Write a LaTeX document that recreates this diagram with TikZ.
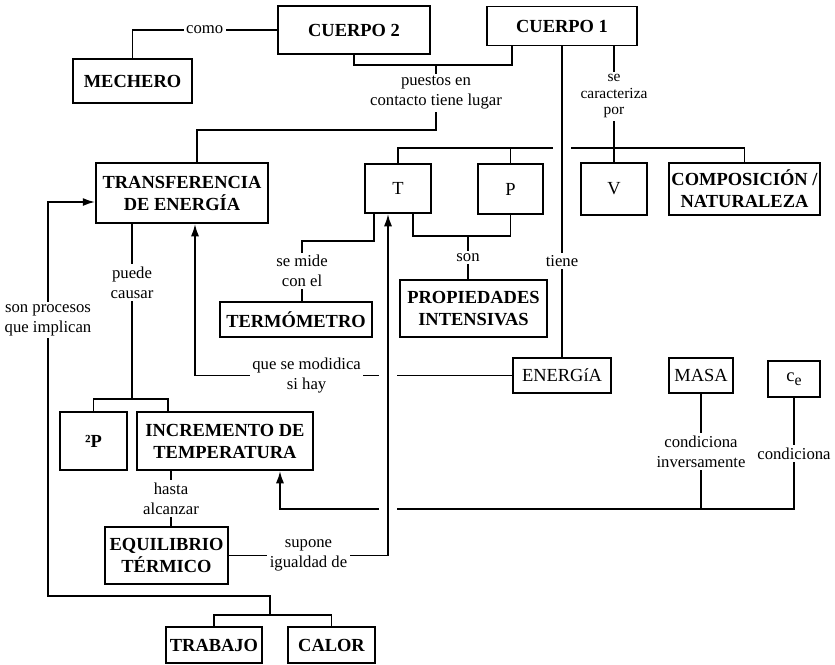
\documentclass[tikz,border=0pt]{standalone}
\usepackage{fontspec}
\setmainfont{Liberation Serif}
\usetikzlibrary{arrows.meta}

\begin{document}
\begin{tikzpicture}[x=0.02cm, y=-0.02cm, >={Latex[length=7pt,width=4.6pt]},
    line width=1pt,
    caja/.style={draw, line width=1.1pt, align=center, inner sep=1pt,
      font=\fontsize{10.5}{12.5}\selectfont\bfseries},
    cajan/.style={caja, font=\fontsize{10.5}{12.5}\selectfont},
    lbl/.style={fill=white, inner sep=1.5pt, align=center,
      font=\fontsize{9.5}{11.3}\selectfont},
    lblsm/.style={lbl, font=\fontsize{8.8}{9.4}\selectfont},
    cruce/.style={fill=white, inner sep=0pt, minimum width=0.36cm, minimum height=0.12cm}
  ]
    \useasboundingbox (0,0) rectangle (835,664);

    \node[caja, minimum width=3.04cm, minimum height=0.96cm] (cuerpo2) at (354,30) {CUERPO 2};
    \node[caja, minimum width=3.0cm, minimum height=0.78cm] (cuerpo1) at (562,26) {CUERPO 1};
    \node[caja, minimum width=2.38cm, minimum height=0.88cm] (mechero) at (132.5,81) {MECHERO};
    \node[caja, minimum width=3.44cm, minimum height=1.2cm] (transf) at (182,193) {TRANSFERENCIA\\DE ENERGÍA};
    \node[cajan, minimum width=1.32cm, minimum height=0.98cm] (t) at (398,188.5) {T};
    \node[cajan, minimum width=1.3cm, minimum height=1.0cm] (p) at (510.5,189) {P};
    \node[cajan, minimum width=1.32cm, minimum height=1.04cm] (v) at (614,189) {V};
    \node[caja, minimum width=3.02cm, minimum height=1.04cm] (comp) at (744.5,189) {COMPOSICIÓN /\\NATURALEZA};
    \node[caja, minimum width=3.04cm, minimum height=0.7cm] (termo) at (296,319.5) {TERMÓMETRO};
    \node[caja, minimum width=2.94cm, minimum height=1.14cm] (prop) at (473.5,308.5) {PROPIEDADES\\INTENSIVAS};
    \node[cajan, minimum width=1.96cm, minimum height=0.7cm] (energia) at (562,375.5) {ENERGíA};
    \node[cajan, minimum width=1.28cm, minimum height=0.7cm] (masa) at (701,375.5) {MASA};
    \node[cajan, minimum width=1.04cm, minimum height=0.72cm] (ce) at (794,379) {c\raisebox{-0.5ex}{\fontsize{9}{9}\selectfont e}};
    \node[caja, minimum width=1.34cm, minimum height=1.16cm] (dp) at (93.5,441) {²P};
    \node[caja, minimum width=3.52cm, minimum height=1.16cm] (incr) at (225,441) {INCREMENTO DE\\TEMPERATURA};
    \node[caja, minimum width=2.46cm, minimum height=1.14cm] (equi) at (166.5,555.5) {EQUILIBRIO\\TÉRMICO};
    \node[caja, minimum width=1.92cm, minimum height=0.72cm] (trabajo) at (214,645) {TRABAJO};
    \node[caja, minimum width=1.74cm, minimum height=0.72cm] (calor) at (331.5,645) {CALOR};

    \coordinate (jc) at (436,65);
    \coordinate (jt) at (436,130);
    \coordinate (jcar) at (614,148);
    \coordinate (jprop) at (468,236);
    \coordinate (jtr) at (132,399);
    \coordinate (jtc) at (270,615);
    \coordinate (jizq) at (48,202);

    \draw (mechero.north) |- node[lbl, pos=0.75] {como} (cuerpo2.west);
    \draw (cuerpo2.south) |- (jc) -| ([xshift=-1cm]cuerpo1.south);
    \draw (jc) -- node[lbl, pos=0.43] {puestos en\\contacto tiene lugar} (jt) -| ([xshift=0.3cm]transf.north);

    \draw (cuerpo1.south -| v.north) -- node[lblsm, pos=0.43] {se\\caracteriza\\por} (v.north);
    \draw (t.north) |- (jcar) -| (comp.north);
    \draw (p.north) -- (p.north |- jcar);
    \node[cruce] at (cuerpo1.south |- jcar) {};
    \draw (cuerpo1.south) -- node[lbl, pos=0.69] {tiene} (energia.north);

    \draw ([xshift=-0.48cm]t.south) -- ++(0,27) -| node[lbl, pos=0.75] {se mide\\con el} ([xshift=0.12cm]termo.north);
    \draw ([xshift=0.3cm]t.south) |- (jprop) -| (p.south);
    \draw (jprop) -- node[lbl] {son} (jprop |- prop.north);

    \draw[->] (energia.west) -| node[lbl, pos=0.324] {que se modidica\\si hay} ([xshift=0.26cm]transf.south);

    \draw ([xshift=-1cm]transf.south) -- node[lbl, pos=0.335] {puede\\causar} (jtr);
    \draw (dp.north) |- (jtr) -| ([xshift=-1.14cm]incr.north);
    \draw ([xshift=-1.08cm]incr.south) -- node[lbl] {hasta\\alcanzar} ([xshift=-1.08cm]incr.south |- equi.north);

    \draw[->] (masa.south) -- node[lbl] {condiciona\\inversamente} ++(0,115) coordinate (jm) -| ([xshift=1.1cm]incr.south);
    \draw (ce.south) |- node[lbl, pos=0.25] {condiciona} (jm);

    \node[cruce] at ([xshift=-0.2cm]t.south |- energia.west) {};
    \node[cruce] at ([xshift=-0.2cm]t.south |- jm) {};
    \draw[->] (equi.east) -| node[lbl, pos=0.25] {supone\\igualdad de} ([xshift=-0.2cm]t.south);

    \draw (trabajo.north) |- (jtc) -| (calor.north);
    \draw[->] (jtc) -- ++(0,-19) -| node[lbl, pos=0.85] {son procesos\\que implican} (jizq) -- ([yshift=-0.18cm]transf.west);
  \end{tikzpicture}
\end{document}
